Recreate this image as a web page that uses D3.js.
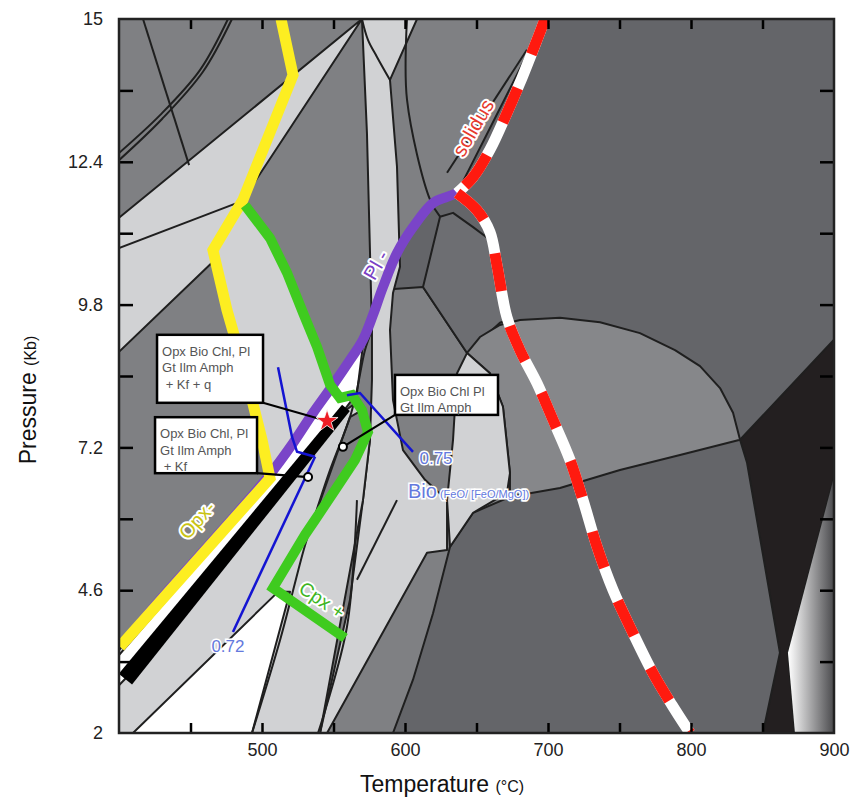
<!DOCTYPE html>
<html><head><meta charset="utf-8">
<script src="https://cdn.jsdelivr.net/npm/d3@7"></script>
<style>
body{margin:0;background:#fff;}
text{font-family:Arial,"Liberation Sans",Helvetica,sans-serif;}
</style>
</head><body>
<svg id="chart" width="858" height="801"></svg>
<script>
// ---------- axis values ----------
const tempDomain = [400, 900];
const presDomain = [2, 15];
const tempLabels = [500, 600, 700, 800, 900];
const tempMinor = [450, 500, 550, 600, 650, 700, 750, 800, 850];
const presLabels = [2, 4.6, 7.2, 9.8, 12.4, 15];
const presMinor = [3.3, 4.6, 5.9, 7.2, 8.5, 9.8, 11.1, 12.4, 13.7];

// ---------- field regions [T (°C), P (Kb)] ----------
const regionMedium = [[400,15],[698,15],[636.4,11.83],[619.6,11.65],[605.6,11.21],[594.4,10.74],[584.6,10.07],[612.6,10.12],[643.4,8.92],[659.4,8.55],[668.5,7.94],[673.4,6.73],[673.4,6.30],[647.6,6.01],[631.5,5.39],[619.6,4.18],[605.6,2.97],[591.6,2],[400,2]];
const regionMid = [[624.5,11.40],[633.6,11.47],[647.6,11.21],[659.4,10.98],[664.3,10.38],[672.0,9.52],[666.4,9.47],[643.4,8.92],[612.6,10.12]];
const regionDisc = [[643.4,8.92],[652.4,9.21],[666.4,9.43],[680.4,9.52],[708.4,9.56],[736.4,9.48],[764.3,9.28],[788.8,8.97],[806.3,8.68],[820.3,8.28],[829.4,7.83],[834.3,7.34],[792.3,7.06],[750.3,6.79],[708.4,6.46],[673.4,6.30],[673.4,6.73],[668.5,7.94],[659.4,8.55]];
const regionVeryDark = [[834.3,7.34],[900,9.16],[900,6.66],[867.8,3.46],[872.7,2],[850.3,2],[862.2,3.46],[839.2,6.92]];
const regionGradient = [[867.8,3.46],[900,6.66],[900,2],[872.7,2]];
const regionLightUpper = [[400,11.38],[569.9,15],[486.7,11.71],[505.6,11.01],[517.5,10.38],[528.7,9.65],[538.5,9.03],[547.6,8.34],[554.5,8.10],[526.6,7.15],[504.2,6.64],[500,7.34],[489.5,8.43],[475.5,9.70],[465.7,10.58],[400,8.94]];
const regionLightBand = [[569.9,15],[608.4,15],[589.5,13.89],[594.4,12.31],[596.5,10.49],[591.6,10.01],[589.5,9.34],[591.6,8.06],[598.6,7.15],[614.0,6.61],[629.4,6.24],[629.4,5.33],[615.4,5.28],[545.5,2],[540.6,2],[561.5,4.42],[570.6,6.24],[575.5,7.34],[576.9,8.43],[576.9,9.34],[573.4,12.92]];
const regionLens = [[643.4,8.92],[659.4,8.55],[668.5,7.94],[673.4,6.73],[671.3,6.37],[647.6,6.01],[631.5,5.39],[629.4,6.24],[633.6,7.34],[636.4,8.55]];
const regionLightLower = [[400,3.51],[504.2,6.64],[526.6,7.06],[558.7,7.88],[568.5,8.06],[575.5,7.34],[570.6,6.24],[540.6,2],[400,2]];
const regionWedge = [[561.5,7.75],[569.9,7.88],[574.1,7.48],[565.0,6.97],[551.0,6.42],[537.1,5.88],[533.6,5.70]];
const regionWhiteTri = [[409.8,2],[511.2,4.57],[519.6,4.57],[493.0,2]];
const regionWhiteStrip = [[400,3.42],[503.5,6.53],[526.6,7.39],[549.7,8.25],[570.6,9.06],[566.4,8.19],[558.7,7.92],[405.6,3.02],[400,2.87]];

// ---------- thin boundary lines ----------
const lineTopLeftA = [[400,12.56],[428.7,13.25],[456.6,14.07],[476.2,15]];
const lineTopLeftB = [[400,12.43],[430.1,13.18],[458.7,14.04],[479.0,15]];
const lineSteep = [[416.8,15],[449.0,12.34]];
const lineWedgeLow = [[400,10.83],[484.6,11.67]];
const lineFan = [[569.9,15],[574.1,14.62],[580.4,14.31],[589.5,13.89]];
const lineMidV = [[601.4,15],[601.4,13.53],[617.5,11.71],[624.5,11.40]];
const lineSolidusBase = [[629.4,12.20],[685.3,14.44]];
const lineCpxEdge = [[576.9,9.34],[572.0,8.97],[566.4,8.25],[561.5,7.75],[547.6,6.79],[537.1,5.97],[530.1,5.42],[512.6,3.69],[493.0,2]];
const lineBandInner = [[594.4,6.24],[566.4,4.79]];
const lineBandLeft = [[566.4,6.24],[559.4,3.93],[539.2,2]];

// ---------- reaction lines ----------
const opxLine = [[513.3,15],[521.7,13.98],[486.7,11.71],[465.7,10.79],[475.5,9.70],[489.5,8.43],[500,7.34],[505.6,6.64],[400.7,3.57]];
const plLine = [[636.4,11.83],[629.4,11.76],[619.6,11.65],[605.6,11.21],[594.4,10.74],[584.6,10.12],[577.6,9.61],[570.6,9.16],[561.5,8.79],[549.7,8.34],[535.7,7.83],[521.7,7.28],[503.5,6.64],[484.6,6.06],[456.6,5.24],[428.7,4.42],[402.1,3.60]];
const cpxLine = [[488.1,11.61],[505.6,11.01],[517.5,10.38],[528.7,9.65],[538.5,9.03],[547.6,8.34],[554.5,8.10],[562.9,8.15],[569.9,7.88],[574.1,7.48],[565.0,6.97],[551.0,6.42],[537.1,5.88],[530.1,5.61],[507.7,4.64],[558.0,3.73]];
const kfLine = [[404.5,2.98],[558.7,7.92]];
const bio072a = [[511.2,8.66],[521.0,7.39],[524.5,7.12],[537.1,7.03]];
const bio072b = [[537.1,7.03],[479.7,3.84]];
const bio075 = [[559.4,8.15],[568.5,8.19],[605.6,7.12]];
const solidusUpper = [[697.9,15],[692.3,14.62],[680.4,13.84],[671.3,13.29],[659.4,12.62],[647.6,12.12],[636.4,11.83]];
const solidusLower = [[636.4,11.83],[650.3,11.52],[659.4,11.12],[664.3,10.52],[671.3,9.57],[680.4,8.97],[692.3,8.37],[703.5,7.70],[715.4,6.97],[724.5,6.24],[734.3,5.39],[745.5,4.60],[759.4,3.82],[773.4,3.09],[786.7,2.51],[799.3,2]];

// ---------- annotations ----------
const boxes = [
  {T:426.6, P:9.25, w:106, h:68, lines:["Opx Bio Chl, Pl","Gt Ilm Amph"," + Kf + q"]},
  {T:425.2, P:7.75, w:102, h:56, lines:["Opx Bio Chl, Pl","Gt Ilm Amph"," + Kf"]},
  {T:593.0, P:8.52, w:103, h:40, lines:["Opx Bio Chl Pl","Gt Ilm Amph"]}
];
const starPoint = [545.5, 7.68];
const circlePoints = [[532.2, 6.66], [556.6, 7.21]];
const leaders = [
  [[426.6+106/1.43, 9.25-68/54.92], [545.5, 7.68]],
  [[425.2+102/1.43, 7.75-56/54.92], [532.2, 6.66]],
  [[593.0, 8.52-40/54.92], [556.6, 7.21]]
];
const curveLabels = [
  {text:"solidus", T:647.6, P:13.02, rot:-60, color:"#e63a2e", size:20},
  {text:"Pl -", T:579.7, P:10.52, rot:-60, color:"#7a3fc4", size:20},
  {text:"Opx-", T:454.5, P:5.88, rot:-48, color:"#c9c414", size:20},
  {text:"Cpx +", T:542.0, P:4.42, rot:34, color:"#3db523", size:19}
];
const valueLabels = [
  {text:"0.72", T:476.2, P:3.58},
  {text:"0.75", T:621.7, P:7.01}
];
const bioLabel = {T:602.1, P:6.28};

// ---------- drawing ----------
const svg = d3.select("#chart");
const x = d3.scaleLinear().domain(tempDomain).range([119, 834]);
const y = d3.scaleLinear().domain(presDomain).range([733, 19]);
const lin = d3.line().x(d => x(d[0])).y(d => y(d[1]));
const smooth = d3.line().x(d => x(d[0])).y(d => y(d[1])).curve(d3.curveCatmullRom.alpha(0.5));

const defs = svg.append("defs");
defs.append("clipPath").attr("id","plotclip").append("rect")
  .attr("x", x(400)).attr("y", y(15)).attr("width", x(900)-x(400)).attr("height", y(2)-y(15));
const grad = defs.append("linearGradient").attr("id","grad").attr("gradientUnits","userSpaceOnUse")
  .attr("x1", x(868)).attr("x2", x(900)).attr("y1",0).attr("y2",0);
grad.append("stop").attr("offset","0%").attr("stop-color","#ffffff");
grad.append("stop").attr("offset","100%").attr("stop-color","#4a4a4d");

const g = svg.append("g").attr("clip-path","url(#plotclip)");

// base
g.append("rect").attr("x", x(400)).attr("y", y(15)).attr("width", x(900)-x(400)).attr("height", y(2)-y(15)).attr("fill","#646569");

const regions = [
  [regionMedium, "#7f8083"],
  [regionMid, "#6d6e72"],
  [regionDisc, "#86878a"],
  [regionLightUpper, "#d1d2d4"],
  [regionLightBand, "#d1d2d4"],
  [regionLens, "#d1d2d4"],
  [regionLightLower, "#d1d2d4"],
  [regionWedge, "#7f8083"],
  [regionWhiteTri, "#ffffff"],
  [regionWhiteStrip, "#ffffff"],
  [regionVeryDark, "#231f20"]
];
regions.forEach(([data, fill]) => {
  g.append("path").attr("d", lin(data) + "Z").attr("fill", fill)
    .attr("stroke", "#1f1f1f").attr("stroke-width", 2).attr("stroke-linejoin","round");
});
g.append("path").attr("d", lin(regionGradient) + "Z").attr("fill", "url(#grad)");

// thin lines
[lineTopLeftA, lineTopLeftB, lineSteep, lineWedgeLow, lineFan, lineMidV, lineSolidusBase, lineCpxEdge, lineBandInner, lineBandLeft]
  .forEach(d => g.append("path").attr("d", smooth(d)).attr("fill","none").attr("stroke","#1f1f1f").attr("stroke-width", 2));

// thick reaction lines
g.append("path").attr("d", smooth(plLine)).attr("fill","none").attr("stroke","#7a44c8").attr("stroke-width",10).attr("stroke-linecap","butt");
g.append("path").attr("d", lin(opxLine)).attr("fill","none").attr("stroke","#fdee21").attr("stroke-width",11).attr("stroke-linejoin","miter");

// tapered black Kf line (width changes along its length)
{
  const a = [x(kfLine[0][0]), y(kfLine[0][1])], b = [x(kfLine[1][0]), y(kfLine[1][1])];
  const dx = b[0]-a[0], dy = b[1]-a[1], len = Math.hypot(dx, dy);
  const nx = -dy/len, ny = dx/len, w0 = 8.5, w1 = 5;
  const poly = [[a[0]+nx*w0, a[1]+ny*w0],[b[0]+nx*w1, b[1]+ny*w1],[b[0]-nx*w1, b[1]-ny*w1],[a[0]-nx*w0, a[1]-ny*w0]];
  g.append("path").attr("d", "M" + poly.map(p => p.join(",")).join("L") + "Z").attr("fill","#000");
}
g.append("path").attr("d", lin(cpxLine)).attr("fill","none").attr("stroke","#3fcb1f").attr("stroke-width",10).attr("stroke-linejoin","miter");
[bio072a, bio072b, bio075].forEach(d => g.append("path").attr("d", lin(d)).attr("fill","none").attr("stroke","#1414d2").attr("stroke-width",2.5));

[solidusUpper, solidusLower].forEach(d => {
  g.append("path").attr("d", smooth(d)).attr("fill","none").attr("stroke","#ffffff").attr("stroke-width",11);
  g.append("path").attr("d", smooth(d)).attr("fill","none").attr("stroke","#ff1a0f").attr("stroke-width",11).attr("stroke-dasharray","38,36");
});

// curve labels
curveLabels.forEach(l => {
  svg.append("text").attr("transform", `translate(${x(l.T)},${y(l.P)}) rotate(${l.rot})`)
    .attr("text-anchor","middle").attr("dy","0.35em")
    .attr("font-size", l.size).attr("fill", l.color)
    .attr("stroke","#fff").attr("stroke-width",4).attr("paint-order","stroke").attr("stroke-linejoin","round")
    .text(l.text);
});
valueLabels.forEach(l => {
  svg.append("text").attr("x", x(l.T)).attr("y", y(l.P)).attr("dy","0.35em").attr("text-anchor","middle")
    .attr("font-size",17).attr("fill","#6479dd")
    .attr("stroke","#fff").attr("stroke-width",3).attr("paint-order","stroke").text(l.text);
});
const bio = svg.append("text").attr("x", x(bioLabel.T)).attr("y", y(bioLabel.P)).attr("fill","#6479dd")
  .attr("stroke","#fff").attr("stroke-width",3).attr("paint-order","stroke");
bio.append("tspan").attr("font-size",20).text("Bio");
bio.append("tspan").attr("font-size",11).attr("dx",3).text("(FeO/ [FeO/MgO])");

// leaders, boxes, markers
leaders.forEach(l => svg.append("path").attr("d", lin(l)).attr("stroke","#000").attr("stroke-width",2.2).attr("fill","none"));
boxes.forEach(b => {
  const bx = x(b.T), by = y(b.P);
  svg.append("rect").attr("x", bx).attr("y", by).attr("width", b.w).attr("height", b.h)
    .attr("fill","#fff").attr("stroke","#000").attr("stroke-width",2.5);
  b.lines.forEach((t, i) => {
    svg.append("text").attr("x", bx + 5).attr("y", by + 21 + i*16.5).attr("font-size",13).attr("fill","#555").attr("xml:space","preserve").text(t);
  });
});
svg.append("path").attr("d", d3.symbol(d3.symbolStar).size(150)())
  .attr("transform", `translate(${x(starPoint[0])},${y(starPoint[1])})`)
  .attr("fill","#ee1c25").attr("stroke","#fff").attr("stroke-width",0.8);
circlePoints.forEach(c => svg.append("circle").attr("cx", x(c[0])).attr("cy", y(c[1])).attr("r",4)
  .attr("fill","#fff").attr("stroke","#000").attr("stroke-width",2));

// axes ticks (inside)
function tickAxis(axis, tr, size) {
  const a = svg.append("g").attr("transform", tr).call(axis.tickSize(-size).tickFormat(""));
  a.select(".domain").remove();
  a.selectAll("line").attr("stroke","#000").attr("stroke-width",2.5);
}
tickAxis(d3.axisBottom(x).tickValues(tempMinor), `translate(0,${y(2)})`, 10);
tickAxis(d3.axisTop(x).tickValues(tempMinor), `translate(0,${y(15)})`, 10);
tickAxis(d3.axisLeft(y).tickValues(presMinor), `translate(${x(400)},0)`, 14);
tickAxis(d3.axisRight(y).tickValues(presMinor), `translate(${x(900)},0)`, 14);

// frame
svg.append("rect").attr("x", x(400)).attr("y", y(15)).attr("width", x(900)-x(400)).attr("height", y(2)-y(15))
  .attr("fill","none").attr("stroke","#222").attr("stroke-width",2.5);

// tick labels
const xl = svg.append("g").attr("transform", `translate(0,${y(2)})`)
  .call(d3.axisBottom(x).tickValues(tempLabels).tickSize(0).tickPadding(10).tickFormat(d3.format("d")));
xl.select(".domain").remove();
xl.selectAll("text").attr("font-size",18).attr("fill","#222").attr("font-family","Arial, 'Liberation Sans', sans-serif");
const yl = svg.append("g").attr("transform", `translate(${x(400)},0)`)
  .call(d3.axisLeft(y).tickValues(presLabels).tickSize(0).tickPadding(16).tickFormat(d => String(d)));
yl.select(".domain").remove();
yl.selectAll("text").attr("font-size",18).attr("fill","#222").attr("font-family","Arial, 'Liberation Sans', sans-serif");

// axis titles
const xt = svg.append("text").attr("x", 442).attr("y", 792).attr("text-anchor","middle").attr("fill","#111");
xt.append("tspan").attr("font-size",23).text("Temperature ");
xt.append("tspan").attr("font-size",16).text("(°C)");
const yt = svg.append("text").attr("transform", "translate(36,400) rotate(-90)").attr("text-anchor","middle").attr("fill","#111");
yt.append("tspan").attr("font-size",23).text("Pressure ");
yt.append("tspan").attr("font-size",16).text("(Kb)");
</script>
</body></html>
